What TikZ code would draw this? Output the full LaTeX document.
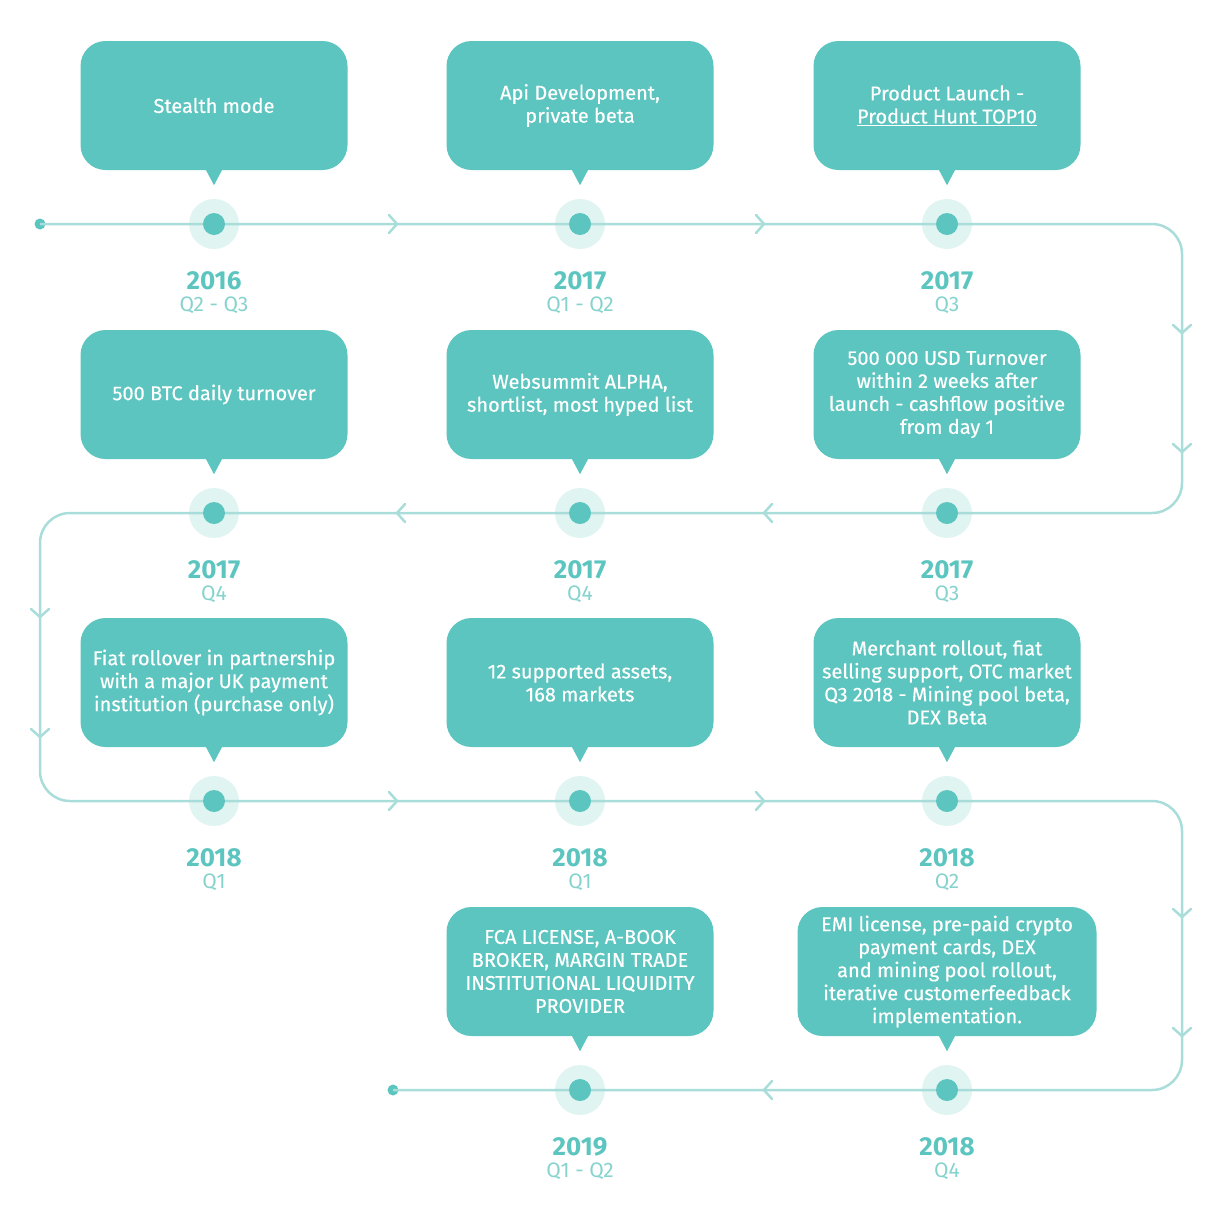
\documentclass[tikz,border=0pt]{standalone}
\usepackage{fontspec}
\setmainfont{Fira Sans}
\newfontfamily\boxfont{Fira Sans}[FakeBold=0.4]
\usetikzlibrary{positioning}
\definecolor{boxteal}{HTML}{5CC5BF}
\definecolor{linecol}{HTML}{A9DDDA}
\definecolor{halocol}{HTML}{E0F4F2}
\definecolor{qcol}{HTML}{86D3CE}

\begin{document}
\begin{tikzpicture}[x=1pt,y=-1pt,
  bubble/.style={fill=boxteal, text=white, rounded corners=25pt, minimum height=129pt,
    align=center, inner sep=4pt, font=\fontsize{20}{23}\selectfont\boxfont},
  halo/.style={circle, fill=halocol, minimum size=50pt, inner sep=0pt},
  dot/.style={circle, fill=boxteal, minimum size=22pt, inner sep=0pt},
  tline/.style={draw=linecol, line width=2.5pt},
  yearlbl/.style={text=boxteal, font=\fontsize{26}{28}\selectfont\bfseries},
  qlbl/.style={text=qcol, font=\fontsize{21}{22}\selectfont},
  chevron/.pic={\draw[tline, line cap=round, line join=round] (-8pt,-9pt) -- (0,0) -- (-8pt,9pt);}
]
\useasboundingbox (0,0) rectangle (1224,1221);

\foreach \n/\x/\y in {1/214/224, 2/580/224, 3/947/224, 4/947/513, 5/580/513, 6/214/513,
  7/214/801, 8/580/801, 9/947/801, 10/947/1090, 11/580/1090}
  \node[halo] (h\n) at (\x,\y) {};

\node[dot, minimum size=11pt] (s) at (40,224) {};
\node[dot, minimum size=11pt] (e) at (393,1090) {};

\draw[tline, rounded corners=30pt] (s.center) -- (h1.center) -- (h2.center) -- (h3.center)
  -- (1182,224) -- (1182,513) -- (h4.center) -- (h5.center) -- (h6.center)
  -- (40,513) -- (40,801) -- (h7.center) -- (h8.center) -- (h9.center)
  -- (1182,801) -- (1182,1090) -- (h10.center) -- (h11.center) -- (e.center);

\foreach \x/\y/\a in {397/224/0, 764/224/0, 1182/333/-90, 1182/452/-90,
  764/513/180, 397/513/180, 40/617/-90, 40/737/-90,
  397/801/0, 764/801/0, 1182/917/-90, 1182/1036/-90, 764/1090/180}
  \pic[rotate=\a] at (\x,\y) {chevron};

\foreach \n/\yr/\q/\w/\txt in {
  1/2016/Q2 - Q3/267/{Stealth mode},
  2/2017/Q1 - Q2/267/{Api Development,\\private beta},
  3/2017/Q3/267/{Product Launch -\\\underline{Product Hunt TOP10}},
  4/2017/Q3/267/{500 000 USD Turnover\\within 2 weeks after\\launch - cashflow positive\\from day 1},
  5/2017/Q4/267/{Websummit ALPHA,\\shortlist, most hyped list},
  6/2017/Q4/267/{500 BTC daily turnover},
  7/2018/Q1/267/{Fiat rollover in partnership\\with a major UK payment\\institution (purchase only)},
  8/2018/Q1/267/{12 supported assets,\\168 markets},
  9/2018/Q2/267/{Merchant rollout, fiat\\selling support, OTC market\\Q3 2018 - Mining pool beta,\\DEX Beta},
  10/2018/Q4/299/{EMI license, pre-paid crypto\\payment cards, DEX\\and mining pool rollout,\\iterative customerfeedback\\implementation.},
  11/2019/Q1 - Q2/267/{FCA LICENSE, A-BOOK\\BROKER, MARGIN TRADE\\INSTITUTIONAL LIQUIDITY\\PROVIDER}} {
  \node[dot] (d\n) at (h\n.center) {};
  \node[yearlbl] (y\n) at ([yshift=-57pt]h\n.center) {\yr};
  \node[qlbl] (q\n) at ([yshift=-81pt]h\n.center) {\q};
  \node[bubble, minimum width=\w pt] (b\n) at ([yshift=118.5pt]h\n.center) {\txt};
  \fill[boxteal] ([xshift=-8.5pt,yshift=1pt]b\n.south) -- ([xshift=8.5pt,yshift=1pt]b\n.south)
    -- ([yshift=-15pt]b\n.south) -- cycle;
}
\end{tikzpicture}
\end{document}
